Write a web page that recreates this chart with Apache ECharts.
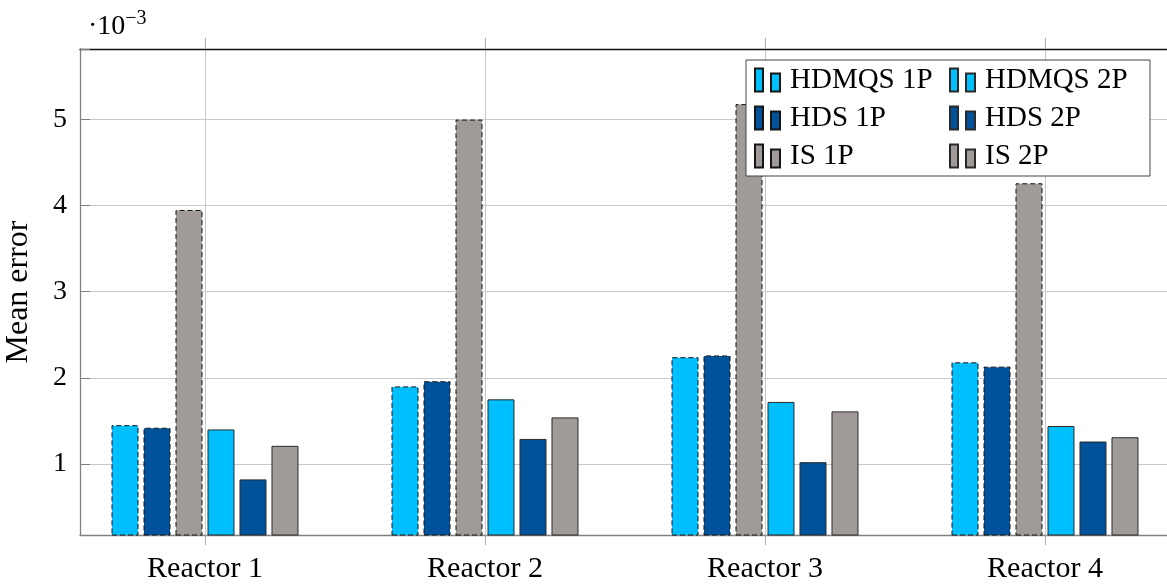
<!DOCTYPE html>
<html>
<head>
<meta charset="utf-8">
<script src="https://cdn.jsdelivr.net/npm/echarts@6/dist/echarts.min.js"></script>
<style>
  html, body { margin: 0; padding: 0; background: #ffffff; }
  #chart { width: 1167px; height: 586px; }
</style>
</head>
<body>
<div id="chart"></div>
<script>
// Mean error per reactor, in units of 1e-3
const categories = ['Reactor 1', 'Reactor 2', 'Reactor 3', 'Reactor 4'];
const hdmqs1P = [1.45, 1.90, 2.24, 2.18];
const hds1P   = [1.42, 1.96, 2.26, 2.13];
const is1P    = [3.95, 5.00, 5.18, 4.26];
const hdmqs2P = [1.40, 1.75, 1.72, 1.44];
const hds2P   = [0.82, 1.29, 1.02, 1.26];
const is2P    = [1.21, 1.54, 1.61, 1.31];
const yTickValues = [1, 2, 3, 4, 5];
const yRange = [0.174, 5.82];

const FONT = 'Liberation Serif';
const CYAN = '#00bfff';
const BLUE = '#00529b';
const GREY = '#a09b98';
const GRID_LINE = '#c9c9c9';
const AXIS_GREY = '#808080';

// legend glyph: two side-by-side bars
const barIcon = 'path://M0,0H8V23H0Z M16,5H25V23H16Z';

function dashedSeries(name, data, color) {
  return {
    name, type: 'bar', xAxisIndex: 0, yAxisIndex: 1, data,
    barWidth: 27, barGap: '18.5%',
    itemStyle: { color, borderColor: '#151515', borderWidth: 1, borderType: [5, 3] }
  };
}
function solidSeries(name, data, color) {
  return {
    name, type: 'bar', xAxisIndex: 0, yAxisIndex: 1, data,
    barWidth: 27, barGap: '18.5%',
    itemStyle: { color, borderColor: '#2a2a2a', borderWidth: 1, borderType: 'solid' }
  };
}

const chart = echarts.init(document.getElementById('chart'), null, { renderer: 'canvas' });
chart.setOption({
  animation: false,
  backgroundColor: '#ffffff',
  title: {
    text: '{a|·10}{b|−3}',
    left: 83, top: 4,
    textStyle: {
      fontWeight: 'normal',
      rich: {
        a: { fontFamily: FONT, fontSize: 28, fontWeight: 'normal', color: '#000', lineHeight: 32, verticalAlign: 'bottom' },
        b: { fontFamily: FONT, fontSize: 20, fontWeight: 'normal', color: '#000', lineHeight: 32, verticalAlign: 'top' }
      }
    }
  },
  grid: [
    // bar layout grid: category bands 280 px wide
    { left: 65, right: -18, top: 49, bottom: 51, outerBoundsMode: 'none', containLabel: false },
    // plot frame
    { left: 80, right: -3, top: 49, bottom: 51, outerBoundsMode: 'none', containLabel: false }
  ],
  legend: {
    left: 746, top: 60,
    width: 390,
    orient: 'horizontal',
    padding: [5, 14, 5, 8],
    itemGap: 8,
    itemWidth: 25, itemHeight: 23,
    icon: barIcon,
    borderColor: '#444', borderWidth: 1, backgroundColor: '#ffffff',
    selectedMode: false,
    textStyle: { fontFamily: FONT, fontSize: 29, color: '#000', width: 151, lineHeight: 30, padding: [0, 0, 0, 5] },
    data: ['HDMQS 1P', 'HDMQS 2P', 'HDS 1P', 'HDS 2P', 'IS 1P', 'IS 2P']
  },
  xAxis: [
    {
      type: 'category', gridIndex: 0, position: 'bottom', data: categories,
      axisLine: { show: false },
      axisTick: { show: true, alignWithLabel: true, inside: false, length: 10, lineStyle: { color: '#b0b0b0' } },
      axisLabel: { fontFamily: FONT, fontSize: 30, color: '#000', margin: 19 },
      splitLine: { show: true, alignWithLabel: true, lineStyle: { color: GRID_LINE, width: 1 } }
    },
    {
      type: 'category', gridIndex: 0, position: 'top', data: categories,
      axisLine: { show: false },
      axisTick: { show: true, alignWithLabel: true, inside: false, length: 11, lineStyle: { color: '#b0b0b0' } },
      axisLabel: { show: false },
      splitLine: { show: false }
    },
    {
      type: 'value', gridIndex: 1, position: 'bottom', min: 0, max: 1,
      axisLine: { show: true, lineStyle: { color: AXIS_GREY, width: 1.3 } },
      axisTick: { show: false }, axisLabel: { show: false }, splitLine: { show: false }
    },
    {
      type: 'value', gridIndex: 1, position: 'top', min: 0, max: 1,
      axisLine: { show: true, lineStyle: { color: '#111', width: 1.3 } },
      axisTick: { show: false }, axisLabel: { show: false }, splitLine: { show: false }
    }
  ],
  yAxis: [
    {
      type: 'value', gridIndex: 1, position: 'left',
      min: yRange[0], max: yRange[1], splitNumber: 5,
      name: 'Mean error', nameLocation: 'middle', nameGap: 45, nameRotate: 90,
      nameTextStyle: { fontFamily: FONT, fontSize: 32, color: '#000' },
      axisLine: { show: true, lineStyle: { color: AXIS_GREY, width: 1.3 } },
      axisTick: { show: true, inside: true, length: 10, lineStyle: { color: AXIS_GREY } },
      axisLabel: {
        fontFamily: FONT, fontSize: 28, color: '#000', margin: 13,
        formatter: v => (yTickValues.includes(Math.round(v * 1000) / 1000) ? String(Math.round(v)) : '')
      },
      splitLine: { show: true, lineStyle: { color: GRID_LINE, width: 1 } }
    },
    {
      type: 'value', gridIndex: 0, min: yRange[0], max: yRange[1],
      show: false, splitLine: { show: false }
    }
  ],
  series: [
    dashedSeries('HDMQS 1P', hdmqs1P, CYAN),
    dashedSeries('HDS 1P', hds1P, BLUE),
    dashedSeries('IS 1P', is1P, GREY),
    solidSeries('HDMQS 2P', hdmqs2P, CYAN),
    solidSeries('HDS 2P', hds2P, BLUE),
    solidSeries('IS 2P', is2P, GREY)
  ]
});
</script>
</body>
</html>
